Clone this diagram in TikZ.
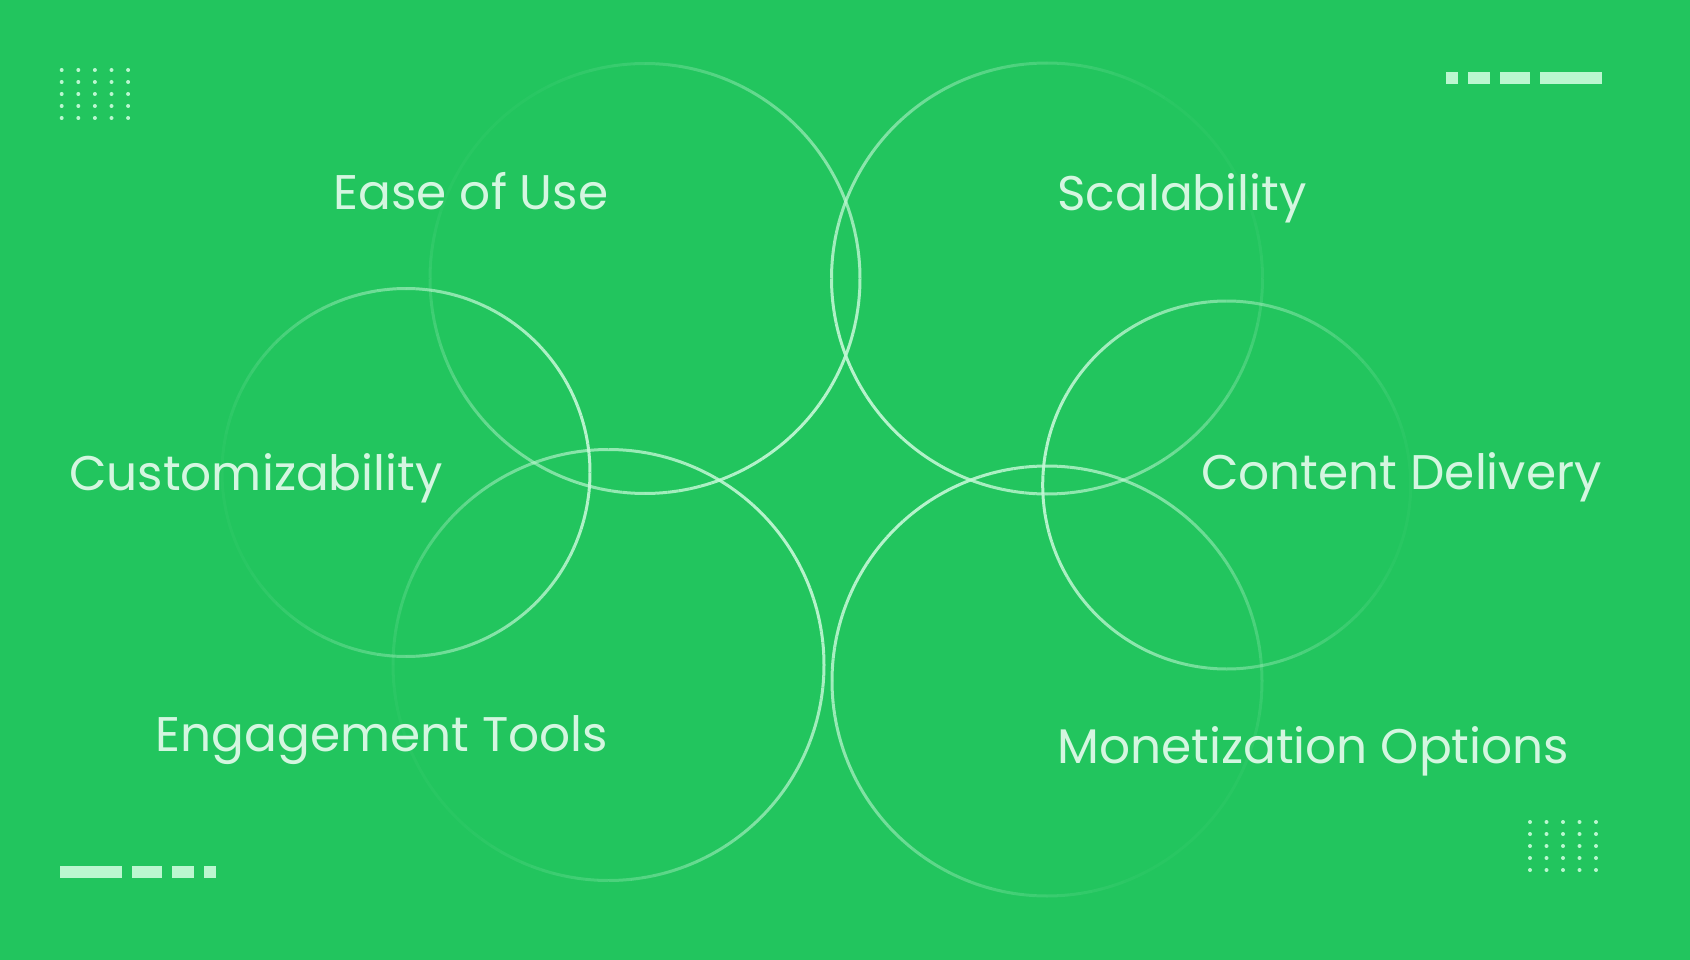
\documentclass[tikz,border=0pt]{standalone}
\usepackage{fontspec}
\setmainfont{Poppins}
\usetikzlibrary{calc}
\definecolor{bg}{RGB}{34,197,94}
\definecolor{deco}{RGB}{187,247,208}
\definecolor{txt}{RGB}{212,246,224}
\definecolor{ringc}{RGB}{196,248,214}
\tikzset{
  lbl/.style={text=txt, font=\fontsize{48.6}{58}\selectfont, inner sep=0pt},
  ring/.style={draw=ringc, line width=3pt},
  bar/.style={fill=deco},
  dot/.style={fill=deco, circle, inner sep=0pt, minimum size=4pt}
}
\newcommand{\gradring}[5]{%
  \coordinate (#1) at (#2,#3);
  \foreach \a in {0,3,...,357}{
    \pgfmathsetmacro\op{max(0.04,0.47+0.45*cos(\a+1.5-#5))}
    \draw[ring, draw opacity=\op] ($(#1)+(\a:#4)$) arc[start angle=\a, end angle=\a+3, radius=#4];
  }
}
\begin{document}
\begin{tikzpicture}[x=1pt,y=-1pt]
\useasboundingbox (0,0) rectangle (1690,960);
\fill[bg] (0,0) rectangle (1690,960);

% rings
\gradring{c1}{645}{278.5}{215}{40}
\gradring{c2}{1047}{278.5}{215.5}{145}
\gradring{c3}{406}{472.5}{184}{350}
\gradring{c4}{608.5}{665}{215.5}{330}
\gradring{c5}{1226.7}{485}{184}{185}
\gradring{c6}{1047}{681}{215}{225}

% labels
\node[lbl, anchor=base east] (ease) at (608.5,210) {Ease of Use};
\node[lbl, anchor=base west] (scal) at (1057,210.5) {Scalability};
\node[lbl, anchor=base west] (cust) at (69,490) {Customizability};
\node[lbl, anchor=base east] (cont) at (1602,489) {Content Delivery};
\node[lbl, anchor=base east] (eng) at (608.5,751.5) {Engagement Tools};
\node[lbl, anchor=base west] (mon) at (1057,763) {Monetization Options};

% dot grids
\foreach \i in {0,...,4}{
  \foreach \j in {0,...,4}{
    \node[dot] (tl\i\j) at (61.7+16.6*\i,70+12*\j) {};
    \node[dot] (br\i\j) at (1530+16.5*\i,822+12*\j) {};
  }
}

% bars top right
\fill[bar] (1446,71.7) rectangle (1457.7,84);
\fill[bar] (1468,71.7) rectangle (1490,84);
\fill[bar] (1500,71.7) rectangle (1530,84);
\fill[bar] (1540,71.7) rectangle (1602,84);
% bars bottom left
\fill[bar] (60,866) rectangle (122,877.7);
\fill[bar] (132,866) rectangle (162,877.7);
\fill[bar] (172,866) rectangle (194,877.7);
\fill[bar] (204,866) rectangle (216,877.7);
\end{tikzpicture}
\end{document}
